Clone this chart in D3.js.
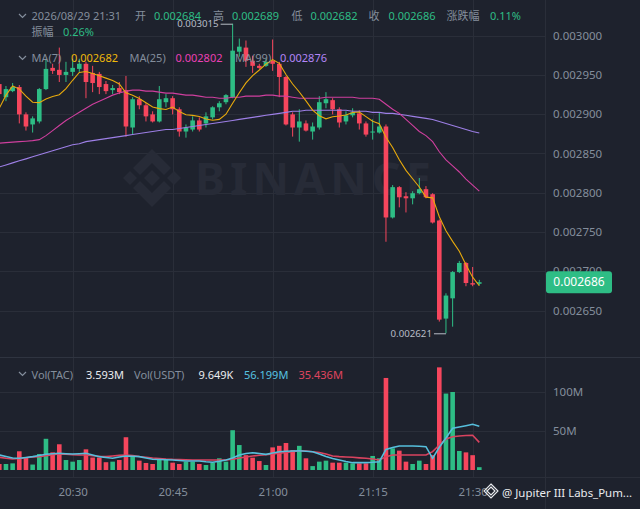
<!DOCTYPE html>
<html>
<head>
<meta charset="utf-8">
<script src="https://cdn.jsdelivr.net/npm/d3@7"></script>
<style>
  body { margin: 0; background: #1e222d; }
  svg text { font-family: "Noto Sans", "Noto Sans CJK SC", sans-serif; }
</style>
</head>
<body>
<div id="chart"></div>
<script>
// 1-minute candles, 20:19 .. 21:31
var firstMinute = "2026-08-29 20:19";

var openP = [0.0029382,0.0029215,0.0029292,0.0029344,0.0028996,0.0028868,0.0028906,0.0029318,0.0029588,0.0029563,
  0.0029498,0.0029537,0.0029575,0.0029640,0.0029524,0.0029511,0.0029382,0.0029305,0.0029331,0.0029305,
  0.0028829,0.0029189,0.0029112,0.0028996,0.0028906,0.0029151,0.0029202,0.0029061,0.0028778,0.0028803,
  0.0028919,0.0028881,0.0028958,0.0029086,0.0029151,0.0029215,0.0029794,0.0029846,0.0029678,0.0029614,
  0.0029614,0.0029678,0.0029640,0.0029472,0.0028996,0.0028829,0.0028881,0.0028778,0.0028829,0.0029138,
  0.0029177,0.0029061,0.0028906,0.0028984,0.0029009,0.0028881,0.0028765,0.0028765,0.0028842,0.0027684,
  0.0028070,0.0027954,0.0027928,0.0027993,0.0028044,0.0027980,0.0027645,0.0026397,0.0026655,0.0026989,
  0.0027105,0.0026848,0.0026840];
var highP = [0.0029408,0.0029357,0.0029395,0.0029370,0.0029022,0.0028971,0.0029331,0.0029704,0.0029640,0.0029846,
  0.0029665,0.0029704,0.0029704,0.0029665,0.0029614,0.0029537,0.0029421,0.0029370,0.0029408,0.0029485,
  0.0029215,0.0029228,0.0029138,0.0029035,0.0029357,0.0029254,0.0029228,0.0029086,0.0028868,0.0028971,
  0.0028958,0.0029022,0.0029099,0.0029164,0.0029254,0.0030150,0.0029961,0.0029936,0.0029743,0.0029640,
  0.0029704,0.0029949,0.0029665,0.0029485,0.0029022,0.0029061,0.0028919,0.0028893,0.0029228,0.0029279,
  0.0029202,0.0029086,0.0029035,0.0029074,0.0029048,0.0028906,0.0028932,0.0029022,0.0028868,0.0028096,
  0.0028083,0.0028006,0.0028018,0.0028186,0.0028083,0.0027993,0.0027658,0.0026719,0.0027002,0.0027131,
  0.0027118,0.0027054,0.0026890];
var lowP = [0.0029215,0.0029164,0.0029279,0.0028881,0.0028790,0.0028765,0.0028881,0.0029305,0.0029511,0.0029408,
  0.0029408,0.0029485,0.0029537,0.0029202,0.0029279,0.0029254,0.0029254,0.0029254,0.0029254,0.0028713,
  0.0028739,0.0029061,0.0028906,0.0028893,0.0028893,0.0029086,0.0028996,0.0028713,0.0028700,0.0028778,
  0.0028778,0.0028829,0.0028932,0.0029035,0.0029125,0.0029202,0.0029730,0.0029601,0.0029524,0.0029575,
  0.0029601,0.0029550,0.0029215,0.0028855,0.0028713,0.0028649,0.0028778,0.0028675,0.0028803,0.0029074,
  0.0028996,0.0028829,0.0028868,0.0028958,0.0028803,0.0028713,0.0028675,0.0028752,0.0027375,0.0027671,
  0.0027813,0.0027748,0.0027851,0.0027980,0.0027928,0.0027607,0.0026359,0.0026210,0.0026294,0.0026976,
  0.0026809,0.0026809,0.0026820];
var closeP = [0.0029254,0.0029318,0.0029344,0.0028996,0.0028842,0.0028945,0.0029318,0.0029575,0.0029550,0.0029498,
  0.0029537,0.0029588,0.0029640,0.0029408,0.0029395,0.0029344,0.0029292,0.0029331,0.0029279,0.0028842,
  0.0029189,0.0029112,0.0028971,0.0028906,0.0029189,0.0029202,0.0029061,0.0028778,0.0028829,0.0028919,
  0.0028803,0.0028971,0.0029086,0.0029138,0.0029241,0.0029807,0.0029858,0.0029678,0.0029614,0.0029588,
  0.0029665,0.0029640,0.0029472,0.0028868,0.0028829,0.0028906,0.0028790,0.0028842,0.0029151,0.0029189,
  0.0029061,0.0028893,0.0028984,0.0029022,0.0028881,0.0028739,0.0028778,0.0028842,0.0027684,0.0028070,
  0.0027941,0.0027928,0.0027993,0.0028044,0.0027941,0.0027620,0.0026384,0.0026690,0.0026989,0.0027105,
  0.0026850,0.0026830,0.0026860];

// MA(7) for the first six minutes (earlier closes are off screen)
var ma7Lead = [0.0029074,0.0029241,0.0029357,0.0029318,0.0029228,0.0029151];
var ma25 = [0.0028630,0.0028636,0.0028643,0.0028649,0.0028655,0.0028662,0.0028675,0.0028726,0.0028790,0.0028855,
  0.0028919,0.0028971,0.0029022,0.0029074,0.0029125,0.0029164,0.0029202,0.0029241,0.0029267,0.0029292,
  0.0029305,0.0029305,0.0029292,0.0029292,0.0029279,0.0029267,0.0029267,0.0029254,0.0029241,0.0029241,
  0.0029228,0.0029215,0.0029215,0.0029202,0.0029202,0.0029215,0.0029215,0.0029228,0.0029228,0.0029228,
  0.0029241,0.0029241,0.0029228,0.0029228,0.0029215,0.0029202,0.0029202,0.0029202,0.0029202,0.0029215,
  0.0029215,0.0029215,0.0029215,0.0029215,0.0029202,0.0029202,0.0029202,0.0029189,0.0029125,0.0029061,
  0.0029009,0.0028932,0.0028855,0.0028778,0.0028726,0.0028649,0.0028520,0.0028417,0.0028340,0.0028263,
  0.0028173,0.0028096,0.0028020];
var ma99 = [0.0028327,0.0028353,0.0028379,0.0028405,0.0028430,0.0028456,0.0028482,0.0028507,0.0028533,0.0028559,
  0.0028585,0.0028610,0.0028623,0.0028649,0.0028662,0.0028675,0.0028688,0.0028700,0.0028713,0.0028726,
  0.0028739,0.0028752,0.0028765,0.0028778,0.0028790,0.0028803,0.0028803,0.0028816,0.0028829,0.0028842,
  0.0028855,0.0028868,0.0028881,0.0028893,0.0028906,0.0028919,0.0028932,0.0028945,0.0028958,0.0028971,
  0.0028984,0.0028996,0.0029009,0.0029022,0.0029035,0.0029035,0.0029048,0.0029048,0.0029048,0.0029048,
  0.0029048,0.0029048,0.0029048,0.0029035,0.0029035,0.0029035,0.0029022,0.0029022,0.0029009,0.0029009,
  0.0028996,0.0028984,0.0028971,0.0028958,0.0028945,0.0028932,0.0028906,0.0028881,0.0028855,0.0028829,
  0.0028803,0.0028778,0.0028760];

// volume in millions of TAC
var volume = [7.7,7.7,8.5,24,16,7,20.5,40,22.6,33,
  12.8,10.7,12.8,26.5,16,16,10,10.7,12.8,42,
  18,12,9,7.7,13.7,13.7,9.4,7.7,10.7,10.7,
  7.7,6.4,9.4,15,10.7,51,32,19,15.8,11.5,
  6.4,29,31,34.6,25.6,31,15,5,10.7,12,
  9.4,9.4,9.4,8.5,8.5,8.5,18,15,118,27.8,
  24.8,10.7,7.7,12,7.7,19,131.6,98,100,24.4,
  22.6,19,3.593];
var volMaA = [19.2,17.3,15.4,15.0,16.0,17.1,18.6,20.1,20.8,21.4,
  20.9,20.5,20.9,21.4,19.2,17.1,16.0,15.0,16.7,17.9,
  17.6,17.1,15.4,13.7,13.5,13.1,12.8,12.2,11.5,11.5,
  11.5,10.6,9.9,11.2,12.8,15.4,19.2,21.2,22.2,21.2,
  20.1,21.8,23.5,24.1,24.4,24.7,24.1,23.5,20.5,17.3,
  14.7,12.8,10.9,9.4,9.4,9.4,9.9,10.6,26.3,28.8,
  30.8,30.8,30.8,30.4,29.9,15.0,29.1,41.0,53.5,55.1,
  56.8,58.6,56.199];
var volMaB = [16.3,15.0,14.1,14.7,15.8,16.7,17.1,18.3,19.6,20.5,
  20.1,19.6,19.2,19.2,18.3,17.6,17.1,17.9,18.8,19.2,
  18.6,17.3,16.3,15.4,14.7,14.1,13.7,13.5,13.2,12.8,
  12.8,12.8,12.8,12.8,12.8,13.7,15.4,16.7,17.9,19.0,
  19.6,20.5,21.4,22.4,23.5,24.7,24.4,23.5,22.4,20.5,
  17.9,17.1,16.7,16.3,15.6,15.0,14.1,12.8,17.1,19.2,
  19.2,19.2,19.2,19.2,19.2,23.5,32.1,39.7,42.7,43.6,
  44.2,44.5,35.436];

var priceTicks = [0.00265, 0.0027, 0.00275, 0.0028, 0.00285, 0.0029, 0.00295, 0.003];
var volTicks = [50, 100];
var volTickLabels = ["50M", "100M"];
var timeLabels = ["20:30", "20:45", "21:00", "21:15", "21:30"];

var UP = "#2ebd85", DOWN = "#f6465d", MUTED = "#848e9c", GRID = "#2a2e39";

var svgWidth = 640, svgHeight = 509;
var plotRight = 545;

var svg = d3.select("#chart").append("svg")
    .attr("width", svgWidth)
    .attr("height", svgHeight)
    .style("display", "block")
    .style("background", "#1e222d");

var parseTime = d3.timeParse("%Y-%m-%d %H:%M");
var t0 = parseTime(firstMinute);
var times = closeP.map((d, i) => d3.timeMinute.offset(t0, i));

// scales
var x = d3.scaleTime()
    .domain([times[0], times[times.length - 1]])
    .range([-0.7, 479.3]);
var bodyW = 4.6;

var y = d3.scaleLinear().domain([0.00265, 0.003]).range([310.5, 35.5]);
var yVol = d3.scaleLinear().domain([0, 100]).range([470, 392]);

var tickTimes = timeLabels.map(s => parseTime("2026-08-29 " + s));

// grid
var grid = svg.append("g");
grid.selectAll(".vg").data(tickTimes).enter().append("line")
    .attr("x1", d => Math.round(x(d)) + 0.5).attr("x2", d => Math.round(x(d)) + 0.5)
    .attr("y1", 0).attr("y2", 477)
    .attr("stroke", GRID);
grid.selectAll(".hg").data(priceTicks).enter().append("line")
    .attr("x1", 0).attr("x2", plotRight)
    .attr("y1", d => Math.round(y(d)) + 0.5).attr("y2", d => Math.round(y(d)) + 0.5)
    .attr("stroke", GRID);
grid.selectAll(".hv").data(volTicks).enter().append("line")
    .attr("x1", 0).attr("x2", plotRight)
    .attr("y1", d => Math.round(yVol(d)) + 0.5).attr("y2", d => Math.round(yVol(d)) + 0.5)
    .attr("stroke", GRID);
svg.append("line").attr("x1", plotRight + 0.5).attr("x2", plotRight + 0.5)
    .attr("y1", 0).attr("y2", svgHeight).attr("stroke", GRID);
svg.append("line").attr("x1", 0).attr("x2", svgWidth)
    .attr("y1", 357.5).attr("y2", 357.5).attr("stroke", "#2f3440");
svg.append("line").attr("x1", 0).attr("x2", svgWidth)
    .attr("y1", 477.5).attr("y2", 477.5).attr("stroke", GRID);

// watermark
var wm = svg.append("g").attr("fill", "#272b37");
wm.append("path").attr("d", "M152,149 L171,168 L164,175 L152,163 L140,175 L133,168 Z");
wm.append("path").attr("d", "M152,207 L171,188 L164,181 L152,193 L140,181 L133,188 Z");
wm.append("path").attr("d", "M152,170 L160,178 L152,186 L144,178 Z");
wm.append("path").attr("d", "M123,178 L130,171 L137,178 L130,185 Z");
wm.append("path").attr("d", "M181,178 L174,171 L167,178 L174,185 Z");
wm.append("text").attr("x", 195).attr("y", 195)
    .attr("font-size", 45).attr("font-weight", 700).attr("letter-spacing", 5)
    .text("BINANCE");

// candles
var idx = d3.range(closeP.length);
var isUp = i => closeP[i] >= openP[i];

var candles = svg.append("g");
candles.selectAll(".wick").data(idx).enter().append("line")
    .attr("x1", i => x(times[i])).attr("x2", i => x(times[i]))
    .attr("y1", i => y(highP[i])).attr("y2", i => y(lowP[i]))
    .attr("stroke", i => isUp(i) ? UP : DOWN)
    .attr("stroke-width", 1);
candles.selectAll(".body").data(idx).enter().append("rect")
    .attr("x", i => x(times[i]) - bodyW / 2)
    .attr("width", bodyW)
    .attr("y", i => y(Math.max(openP[i], closeP[i])))
    .attr("height", i => Math.max(1, Math.abs(y(openP[i]) - y(closeP[i]))))
    .attr("fill", i => isUp(i) ? UP : DOWN);

// moving averages
var ma7 = closeP.map((c, i) => i < 6 ? ma7Lead[i] : d3.mean(closeP.slice(i - 6, i + 1)));
var priceLine = d3.line().x((d, i) => x(times[i])).y(d => y(d));
[[ma99, "#9d7fe6"], [ma25, "#cf3f9e"], [ma7, "#e8aa0c"]].forEach(function (m) {
    svg.append("path").datum(m[0])
        .attr("fill", "none").attr("stroke", m[1]).attr("stroke-width", 1.1)
        .attr("d", priceLine);
});

// high / low markers
var hiIdx = d3.maxIndex(highP), loIdx = d3.minIndex(lowP);
var fmt6 = d3.format(".6f");
var mk = svg.append("g").attr("font-size", 9.7).attr("fill", "#b7bdc6");
mk.append("line").attr("x1", x(times[hiIdx]) - 12).attr("x2", x(times[hiIdx]))
    .attr("y1", y(highP[hiIdx]) + 0.5).attr("y2", y(highP[hiIdx]) + 0.5).attr("stroke", "#b7bdc6");
mk.append("text").attr("x", x(times[hiIdx]) - 14).attr("y", y(highP[hiIdx]) + 3.5)
    .attr("text-anchor", "end").text(fmt6(highP[hiIdx]));
mk.append("line").attr("x1", x(times[loIdx]) - 12).attr("x2", x(times[loIdx]))
    .attr("y1", y(lowP[loIdx]) + 0.5).attr("y2", y(lowP[loIdx]) + 0.5).attr("stroke", "#b7bdc6");
mk.append("text").attr("x", x(times[loIdx]) - 14).attr("y", y(lowP[loIdx]) + 3.5)
    .attr("text-anchor", "end").text(fmt6(lowP[loIdx]));

// volume
svg.append("g").selectAll("rect").data(idx).enter().append("rect")
    .attr("x", i => x(times[i]) - bodyW / 2)
    .attr("width", bodyW)
    .attr("y", i => yVol(volume[i]))
    .attr("height", i => yVol(0) - yVol(volume[i]))
    .attr("fill", i => isUp(i) ? UP : DOWN);

var volLine = d3.line().x((d, i) => x(times[i])).y(d => yVol(d));
svg.append("path").datum(volMaB).attr("fill", "none").attr("stroke", "#d9435f")
    .attr("stroke-width", 1.6).attr("d", volLine);
svg.append("path").datum(volMaA).attr("fill", "none").attr("stroke", "#56bfdc")
    .attr("stroke-width", 1.6).attr("d", volLine);

// axes
var yAxis = svg.append("g").attr("transform", "translate(553,0)")
    .call(d3.axisRight(y).tickValues(priceTicks).tickSize(0).tickPadding(0).tickFormat(fmt6));
var vAxis = svg.append("g").attr("transform", "translate(553,0)")
    .call(d3.axisRight(yVol).tickValues(volTicks).tickSize(0).tickPadding(0)
        .tickFormat((d, i) => volTickLabels[i]));
var xAxis = svg.append("g").attr("transform", "translate(0,485)")
    .call(d3.axisBottom(x).tickValues(tickTimes).tickSize(0).tickPadding(0)
        .tickFormat(d3.timeFormat("%H:%M")));
[yAxis, vAxis, xAxis].forEach(function (a) {
    a.select(".domain").remove();
    a.selectAll("text").attr("fill", MUTED).attr("font-size", 11.5)
        .style("font-family", '"Noto Sans", sans-serif');
});
xAxis.selectAll("text").attr("dy", "0.95em");

// last price tag
var lastP = closeP[closeP.length - 1];
svg.append("rect").attr("x", 546).attr("y", y(lastP) - 11).attr("width", 66).attr("height", 22)
    .attr("rx", 3).attr("fill", UP);
svg.append("text").attr("x", 579).attr("y", y(lastP) + 4.2).attr("text-anchor", "middle")
    .attr("font-size", 12).attr("fill", "#ffffff").text(fmt6(lastP));

// legends
function chevron(cy) {
    svg.append("path").attr("d", `M19,${cy - 2} L22.5,${cy + 1.5} L26,${cy - 2}`)
        .attr("fill", "none").attr("stroke", MUTED).attr("stroke-width", 1.2);
}
function legend(items, baseY) {
    items.forEach(function (it) {
        svg.append("text").attr("x", it[1]).attr("y", baseY)
            .attr("font-size", 11).attr("fill", it[2]).text(it[0]);
    });
}
var n = closeP.length - 1;
var ampl = (highP[n] - lowP[n]) / closeP[n - 1] * 100;
var chg = (closeP[n] - closeP[n - 1]) / closeP[n - 1] * 100;
chevron(16);
legend([
    [d3.timeFormat("%Y/%m/%d %H:%M")(times[n]), 31.5, MUTED],
    ["开", 135, MUTED], [fmt6(openP[n]), 154, UP],
    ["高", 213, MUTED], [fmt6(highP[n]), 232, UP],
    ["低", 291.5, MUTED], [fmt6(lowP[n]), 310.5, UP],
    ["收", 368.5, MUTED], [fmt6(closeP[n]), 388.5, UP],
    ["涨跌幅", 446.5, MUTED], [chg.toFixed(2) + "%", 490, UP]
], 20);
legend([["振幅", 31.5, MUTED], [ampl.toFixed(2) + "%", 63, UP]], 36);

chevron(58);
legend([
    ["MA(7)", 31.5, MUTED], [fmt6(ma7[n]), 71, "#f0b90b"],
    ["MA(25)", 129.5, MUTED], [fmt6(ma25[n]), 175.5, "#eb40b5"],
    ["MA(99)", 235, MUTED], [fmt6(ma99[n]), 280, "#b385f8"]
], 62);

chevron(374);
legend([
    ["Vol(TAC)", 31.5, MUTED], [d3.format(".3f")(volume[n]) + "M", 86, "#eaecef"],
    ["Vol(USDT)", 134, MUTED], ["9.649K", 198.5, "#eaecef"],
    [d3.format(".3f")(volMaA[n]) + "M", 244, "#56c2e0"],
    [d3.format(".3f")(volMaB[n]) + "M", 298.5, "#e0455f"]
], 379);

// attribution
var at = svg.append("g").attr("fill", "none").attr("stroke", "#eaecef").attr("stroke-width", 1.1);
at.append("path").attr("d", "M491,487 L495,491 L491,495 L487,491 Z");
at.append("path").attr("d", "M491,484 L498,491 L491,498 L484,491 Z");
svg.append("text").attr("x", 502).attr("y", 497).attr("font-size", 11.5)
    .attr("textLength", 130).attr("lengthAdjust", "spacingAndGlyphs")
    .attr("fill", "#eaecef").text("@ Jupiter III Labs_Pum...");
</script>
</body>
</html>
